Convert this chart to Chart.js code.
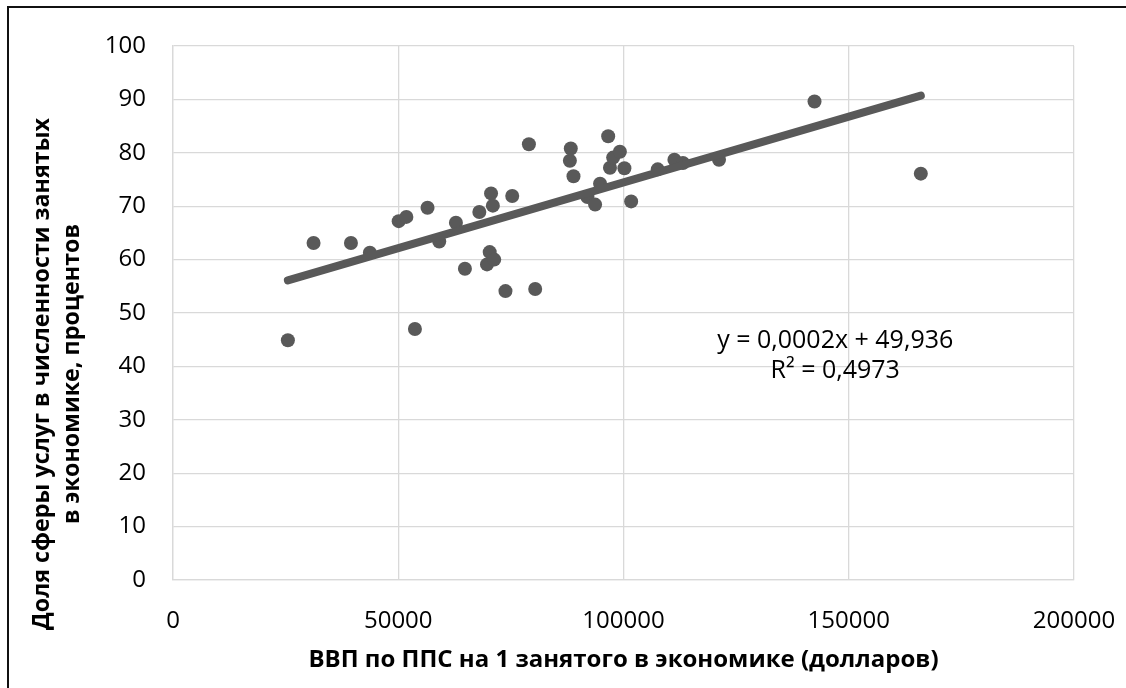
<!DOCTYPE html>
<html>
<head>
<meta charset="utf-8">
<script src="https://cdn.jsdelivr.net/npm/chart.js@4.4.1/dist/chart.umd.min.js"></script>
<style>
  html, body { margin: 0; padding: 0; background: #fff; }
  #wrap { position: relative; width: 1126px; height: 688px; overflow: hidden; }
  #frame { position: absolute; left: 7px; top: 6px; width: 1200px; height: 800px;
           border-left: 2px solid #111; border-top: 2px solid #111; pointer-events: none; }
  canvas { position: absolute; left: 0; top: 0; }
</style>
</head>
<body>
<div id="wrap">
  <canvas id="myChart" width="1126" height="688"></canvas>
  <div id="frame"></div>
</div>
<script>
// ДАННЫЕ
const gdpPerWorker = [
  25500, 31200, 39500, 43700, 50100, 51800, 53700, 56500, 59100, 62800,
  64800, 68000, 69700, 70300, 70600, 71000, 71300, 73800, 75300, 79000,
  80400, 88100, 88300, 88900, 92000, 93700, 94800, 96600, 97000, 97700,
  99200, 100200, 101700, 107600, 111300, 113200, 121200, 142400, 166000
];
const serviceShare = [
  44.9, 63.1, 63.1, 61.3, 67.2, 68.0, 47.0, 69.7, 63.4, 66.9,
  58.3, 68.9, 59.1, 61.4, 72.4, 70.1, 60.0, 54.1, 71.9, 81.6,
  54.5, 78.5, 80.8, 75.6, 71.7, 70.3, 74.2, 83.1, 77.2, 79.1,
  80.2, 77.1, 70.9, 76.9, 78.7, 78.1, 78.7, 89.6, 76.1
];
const xTickValues = [0, 50000, 100000, 150000, 200000];
const yTickValues = [0, 10, 20, 30, 40, 50, 60, 70, 80, 90, 100];
const equationLines = ["y = 0,0002x + 49,936", "R² = 0,4973"];
const xTitle = "ВВП по ППС на 1 занятого в экономике (долларов)";
const yTitle = ["Доля сферы услуг в численности занятых", "в экономике, процентов"];

// ЛИНИЯ ТРЕНДА (МНК)
const n = gdpPerWorker.length;
const mx = gdpPerWorker.reduce((a, b) => a + b, 0) / n;
const my = serviceShare.reduce((a, b) => a + b, 0) / n;
let sxy = 0, sxx = 0;
gdpPerWorker.forEach((x, i) => {
  sxy += (x - mx) * (serviceShare[i] - my);
  sxx += (x - mx) * (x - mx);
});
const slope = sxy / sxx;
const intercept = my - slope * mx;
const xMin = Math.min(...gdpPerWorker);
const xMax = Math.max(...gdpPerWorker);

const points = gdpPerWorker.map((x, i) => ({ x: x, y: serviceShare[i] }));
const trend = [
  { x: xMin, y: intercept + slope * xMin },
  { x: xMax, y: intercept + slope * xMax },
];

const textFont = '"Open Sans", sans-serif';

// ПОДПИСИ ОСЕЙ И УРАВНЕНИЕ
const labelsPlugin = {
  id: "labels",
  afterDraw(chart) {
    const c = chart.ctx;
    const area = chart.chartArea;
    c.save();
    c.fillStyle = "#000";
    c.textAlign = "center";
    c.textBaseline = "middle";

    c.font = "bold 24px " + textFont;
    c.fillText(xTitle, (area.left + area.right) / 2, 660);

    c.save();
    c.font = "bold 23.3px " + textFont;
    c.translate(0, 374);
    c.rotate(-Math.PI / 2);
    c.fillText(yTitle[0], 0, 42);
    c.fillText(yTitle[1], 0, 72);
    c.restore();

    c.font = "25px " + textFont;
    const ex = chart.scales.x.getPixelForValue(147000);
    const ey = chart.scales.y.getPixelForValue(44.7);
    c.fillText(equationLines[0], ex, ey);
    c.fillText(equationLines[1], ex, ey + 30);
    c.restore();
  },
};

const ctx = document.getElementById("myChart");

new Chart(ctx, {
  type: "scatter",
  data: {
    datasets: [
      {
        type: "line",
        label: "trend",
        data: trend,
        borderColor: "#595959",
        borderWidth: 8,
        borderCapStyle: "round",
        pointRadius: 0,
        fill: false,
        order: 0,
      },
      {
        label: "points",
        data: points,
        backgroundColor: "#595959",
        borderWidth: 0,
        pointRadius: 7,
        order: 1,
      },
    ],
  },
  options: {
    responsive: false,
    animation: false,
    layout: { padding: { top: 46, right: 52, left: 0, bottom: 0 } },
    plugins: { legend: { display: false }, tooltip: { enabled: false } },
    scales: {
      x: {
        type: "linear",
        min: 0,
        max: 200000,
        afterBuildTicks: (s) => { s.ticks = xTickValues.map((v) => ({ value: v })); },
        afterFit: (s) => { s.height = 108; s.paddingLeft = 0; s.paddingRight = 0; },
        grid: { color: "#d9d9d9", lineWidth: 1.3, drawTicks: false },
        border: { color: "#d9d9d9", width: 1.3 },
        ticks: {
          padding: 27,
          color: "#000",
          font: { family: textFont, size: 24 },
          callback: (v) => String(v),
        },
      },
      y: {
        min: 0,
        max: 100,
        afterBuildTicks: (s) => { s.ticks = yTickValues.map((v) => ({ value: v })); },
        afterFit: (s) => { s.width = 173; s.paddingTop = 0; s.paddingBottom = 0; },
        grid: { color: "#d9d9d9", lineWidth: 1.3, drawTicks: false },
        border: { color: "#d9d9d9", width: 1.3 },
        ticks: {
          padding: 27,
          color: "#000",
          font: { family: textFont, size: 24 },
          callback: (v) => String(v),
        },
      },
    },
  },
  plugins: [labelsPlugin],
});
</script>
</body>
</html>
